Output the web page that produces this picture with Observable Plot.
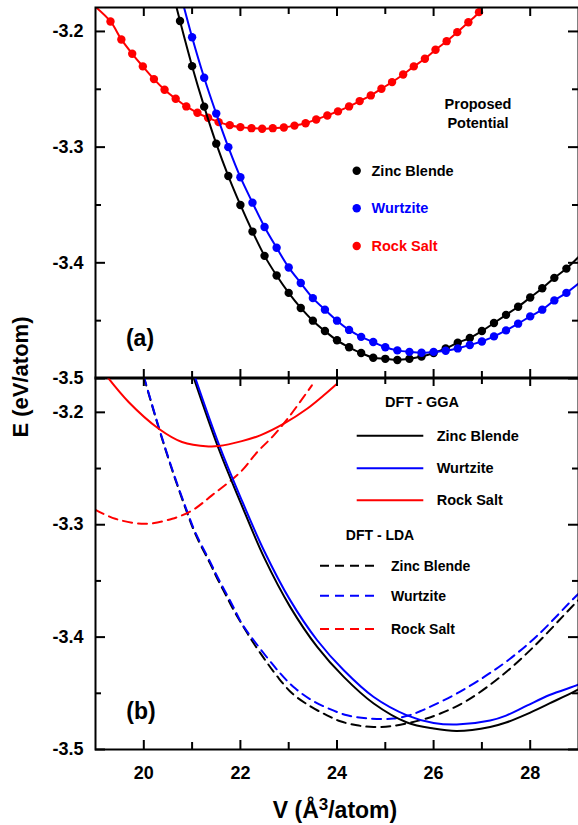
<!DOCTYPE html>
<html>
<head>
<meta charset="utf-8">
<script src="https://cdn.jsdelivr.net/npm/d3@7"></script>
<script src="https://cdn.jsdelivr.net/npm/@observablehq/plot@0.6"></script>
<style>
  body { margin: 0; background: white; }
  #chart { position: relative; width: 578px; height: 825px; overflow: hidden; background: white; }
  #chart svg { position: absolute; left: 0; }
</style>
</head>
<body>
<div id="chart"></div>
<script>
// ---------------- DATA ----------------
// Axis ticks
const xMajor = [20, 22, 24, 26, 28];
const xMinor = [21, 23, 25, 27];
const yMajor = [-3.5, -3.4, -3.3, -3.2];
const yMinor = [-3.45, -3.35, -3.25];

// Panel (a): Proposed potential (points + fitted line)
const zbV_a = [20.75, 21.0, 21.25, 21.5, 21.75, 22.0, 22.25, 22.5, 22.75, 23.0, 23.25, 23.5, 23.75, 24.0, 24.25, 24.5, 24.75, 25.0, 25.25, 25.5, 25.75, 26.0, 26.25, 26.5, 26.75, 27.0, 27.25, 27.5, 27.75, 28.0, 28.25, 28.5, 28.75];
const zbE_a = [-3.191, -3.230, -3.265, -3.297, -3.325, -3.350, -3.373, -3.394, -3.411, -3.426, -3.439, -3.450, -3.459, -3.467, -3.473, -3.478, -3.482, -3.483, -3.484, -3.483, -3.481, -3.478, -3.474, -3.469, -3.465, -3.459, -3.452, -3.445, -3.438, -3.430, -3.422, -3.413, -3.405];
const zbLineEnds_a = [[20.6, -3.166], [29.0, -3.395]];

const wzV_a = [21.0, 21.25, 21.5, 21.75, 22.0, 22.25, 22.5, 22.75, 23.0, 23.25, 23.5, 23.75, 24.0, 24.25, 24.5, 24.75, 25.0, 25.25, 25.5, 25.75, 26.0, 26.25, 26.5, 26.75, 27.0, 27.25, 27.5, 27.75, 28.0, 28.25, 28.5, 28.75];
const wzE_a = [-3.205, -3.240, -3.271, -3.300, -3.326, -3.348, -3.369, -3.387, -3.404, -3.4175, -3.4305, -3.4405, -3.450, -3.458, -3.464, -3.4685, -3.473, -3.4757, -3.477, -3.4777, -3.477, -3.476, -3.474, -3.471, -3.468, -3.4636, -3.4584, -3.4526, -3.4463, -3.4405, -3.4325, -3.426];
const wzLineEnds_a = [[20.75, -3.166], [29.0, -3.418]];

const rsV_a = [19.31, 19.535, 19.76, 19.98, 20.21, 20.43, 20.66, 20.88, 21.11, 21.33, 21.55, 21.78, 22.0, 22.23, 22.45, 22.67, 22.9, 23.12, 23.35, 23.57, 23.8, 24.02, 24.25, 24.47, 24.7, 24.92, 25.14, 25.37, 25.59, 25.82, 26.04, 26.27, 26.49, 26.72, 26.94];
const rsE_a = [-3.1914, -3.2069, -3.2193, -3.2302, -3.2412, -3.2504, -3.2582, -3.2648, -3.2703, -3.2746, -3.2784, -3.2810, -3.2827, -3.2836, -3.2841, -3.2836, -3.2830, -3.2814, -3.2793, -3.2761, -3.2726, -3.2691, -3.2648, -3.2602, -3.2553, -3.2495, -3.2438, -3.2372, -3.2302, -3.2236, -3.2158, -3.2084, -3.2006, -3.1920, -3.1833];
const rsLineEnds_a = [[18.95, -3.177], [27.1, -3.170]];

// Panel (b): DFT curves
const ggaZbV = [21.0, 21.55, 22.0, 22.5, 23.03, 23.59, 24.14, 24.76, 25.45, 26.0, 26.48, 27.17, 27.5, 27.93, 28.4, 28.9, 29.0];
const ggaZbE = [-3.165, -3.2324, -3.2799, -3.330, -3.3731, -3.4087, -3.4354, -3.4591, -3.4760, -3.4814, -3.4835, -3.4800, -3.4760, -3.4685, -3.4590, -3.4488, -3.4465];

const ggaWzV = [21.03, 21.55, 22.0, 22.5, 23.03, 23.59, 24.14, 24.76, 25.45, 26.0, 26.48, 27.17, 27.5, 27.93, 28.4, 28.97, 29.0];
const ggaWzE = [-3.165, -3.228, -3.2754, -3.324, -3.3671, -3.4028, -3.4295, -3.4533, -3.4696, -3.4764, -3.4778, -3.4742, -3.4698, -3.4610, -3.4515, -3.4428, -3.4420];

const ggaRsV = [19.2, 19.69, 20.31, 20.79, 21.34, 21.55, 22.03, 22.41, 22.9, 23.38, 23.72, 24.0];
const ggaRsE = [-3.166, -3.191, -3.2146, -3.2264, -3.2303, -3.2300, -3.2256, -3.2205, -3.2101, -3.1968, -3.1850, -3.1745];

const ldaZbV = [20.0, 20.31, 20.587, 20.862, 21.069, 21.379, 21.518, 21.69, 21.862, 22.068, 22.275, 22.517, 22.76, 23.07, 23.449, 23.794, 24.069, 24.415, 24.758, 25.172, 25.72, 26.14, 26.69, 27.38, 28.07, 28.83, 29.0];
const ldaZbE = [-3.1686, -3.214, -3.2514, -3.2852, -3.3084, -3.3351, -3.3476, -3.3618, -3.3761, -3.3912, -3.4055, -3.4206, -3.4348, -3.4500, -3.4616, -3.4696, -3.4749, -3.4785, -3.4800, -3.4789, -3.4740, -3.4680, -3.4565, -3.4354, -3.4087, -3.3745, -3.3670];

const ldaWzV = [20.0, 20.31, 20.587, 20.862, 21.069, 21.379, 21.518, 21.69, 21.862, 22.03, 22.275, 22.83, 23.14, 23.48, 23.83, 24.21, 24.69, 25.17, 25.5, 25.72, 26.0, 26.48, 27.1, 27.59, 28.14, 28.9, 29.0];
const ldaWzE = [-3.1680, -3.2132, -3.2505, -3.2840, -3.3070, -3.3335, -3.3458, -3.3598, -3.3738, -3.3879, -3.4028, -3.4325, -3.4458, -3.4562, -3.4636, -3.4696, -3.4725, -3.4725, -3.4695, -3.4660, -3.4605, -3.4502, -3.4339, -3.4190, -3.3990, -3.3656, -3.3615];

const ldaRsV = [19.0, 19.41, 20.03, 20.59, 21.0, 21.41, 22.0, 22.35, 22.69, 23.03, 23.48];
const ldaRsE = [-3.2867, -3.2947, -3.2992, -3.2947, -3.2873, -3.2739, -3.2532, -3.2353, -3.2205, -3.2027, -3.1760];

// Legend labels
const phases = ["Zinc Blende", "Wurtzite", "Rock Salt"];
const phaseColors = ["#000000", "#0000ff", "#ff0000"];

// ---------------- HELPERS ----------------
const FONT = '"Liberation Sans", Arial, Helvetica, sans-serif';
const pts = (V, E) => V.map((v, i) => ({V: v, E: E[i]}));
const withEnds = (V, E, ends) => [{V: ends[0][0], E: ends[0][1]}, ...pts(V, E), {V: ends[1][0], E: ends[1][1]}];

const W = 578, ML = 95, MR = 0;
const FW = W - ML - MR;
const xDomain = [19, 29];

// Inward ticks on all four sides (lengths in pixels converted to data units)
function frameTicks(yDom, fh) {
  const ypx = (yDom[1] - yDom[0]) / fh;
  const xpx = (xDomain[1] - xDomain[0]) / FW;
  const [yb, yt] = yDom, [xl, xr] = xDomain;
  const sw = 2;
  return [
    Plot.ruleX(xMajor, {x: d => d, y1: () => yt, y2: () => yt - 9 * ypx, stroke: "black", strokeWidth: sw}),
    Plot.ruleX(xMajor, {x: d => d, y1: () => yb, y2: () => yb + 9 * ypx, stroke: "black", strokeWidth: sw}),
    Plot.ruleX(xMinor, {x: d => d, y1: () => yt, y2: () => yt - 7 * ypx, stroke: "black", strokeWidth: sw}),
    Plot.ruleX(xMinor, {x: d => d, y1: () => yb, y2: () => yb + 7 * ypx, stroke: "black", strokeWidth: sw}),
    Plot.ruleY(yMajor, {y: d => d, x1: () => xl, x2: () => xl + 10 * xpx, stroke: "black", strokeWidth: sw}),
    Plot.ruleY(yMajor, {y: d => d, x1: () => xr, x2: () => xr - 10 * xpx, stroke: "black", strokeWidth: sw}),
    Plot.ruleY(yMinor, {y: d => d, x1: () => xl, x2: () => xl + 6 * xpx, stroke: "black", strokeWidth: sw}),
    Plot.ruleY(yMinor, {y: d => d, x1: () => xr, x2: () => xr - 6 * xpx, stroke: "black", strokeWidth: sw}),
    Plot.frame({stroke: "black", strokeWidth: 2})
  ];
}

const baseStyle = {fontFamily: FONT, fontSize: "18px", fontWeight: "bold", color: "black", overflow: "visible", background: "transparent"};

// ---------------- PANEL (a) ----------------
const topH = 380, topMT = 7, topMB = 2;
const yDomA = [-3.5, -3.1793];
const plotA = Plot.plot({
  width: W, height: topH, marginTop: topMT, marginBottom: topMB, marginLeft: ML, marginRight: MR,
  x: {domain: xDomain, axis: null},
  y: {domain: yDomA, axis: null},
  style: baseStyle,
  marks: [
    Plot.axisY(yMajor, {anchor: "left", tickSize: 0, tickPadding: 12, tickFormat: d => d.toFixed(1), label: null}),
    Plot.line(withEnds(rsV_a, rsE_a, rsLineEnds_a), {x: "V", y: "E", stroke: phaseColors[2], strokeWidth: 2, curve: "catmull-rom", clip: true}),
    Plot.dot(pts(rsV_a, rsE_a), {x: "V", y: "E", r: 4.2, fill: phaseColors[2], clip: true}),
    Plot.line(withEnds(zbV_a, zbE_a, zbLineEnds_a), {x: "V", y: "E", stroke: phaseColors[0], strokeWidth: 2, curve: "catmull-rom", clip: true}),
    Plot.dot(pts(zbV_a, zbE_a), {x: "V", y: "E", r: 4.2, fill: phaseColors[0], clip: true}),
    Plot.line(withEnds(wzV_a, wzE_a, wzLineEnds_a), {x: "V", y: "E", stroke: phaseColors[1], strokeWidth: 2, curve: "catmull-rom", clip: true}),
    Plot.dot(pts(wzV_a, wzE_a), {x: "V", y: "E", r: 4.2, fill: phaseColors[1], clip: true}),
    ...frameTicks(yDomA, topH - topMT - topMB)
  ]
});
plotA.style.top = "0px";

// ---------------- PANEL (b) ----------------
const botTop = 376, botH = 825 - botTop, botMT = 1, botMB = 76;
const yDomB = [-3.5, -3.169];
const dash = "9,6";
const plotB = Plot.plot({
  width: W, height: botH, marginTop: botMT, marginBottom: botMB, marginLeft: ML, marginRight: MR,
  x: {domain: xDomain, axis: null},
  y: {domain: yDomB, axis: null},
  style: baseStyle,
  marks: [
    Plot.axisY(yMajor, {anchor: "left", tickSize: 0, tickPadding: 12, tickFormat: d => d.toFixed(1), label: null}),
    Plot.axisX(xMajor, {anchor: "bottom", tickSize: 0, tickPadding: 17, tickFormat: d => String(d), label: null}),
    Plot.line(pts(ldaZbV, ldaZbE), {x: "V", y: "E", stroke: phaseColors[0], strokeWidth: 2, strokeDasharray: dash, curve: "catmull-rom", clip: true}),
    Plot.line(pts(ldaWzV, ldaWzE), {x: "V", y: "E", stroke: phaseColors[1], strokeWidth: 2, strokeDasharray: dash, curve: "catmull-rom", clip: true}),
    Plot.line(pts(ldaRsV, ldaRsE), {x: "V", y: "E", stroke: phaseColors[2], strokeWidth: 2, strokeDasharray: dash, curve: "catmull-rom", clip: true}),
    Plot.line(pts(ggaZbV, ggaZbE), {x: "V", y: "E", stroke: phaseColors[0], strokeWidth: 2, curve: "catmull-rom", clip: true}),
    Plot.line(pts(ggaWzV, ggaWzE), {x: "V", y: "E", stroke: phaseColors[1], strokeWidth: 2, curve: "catmull-rom", clip: true}),
    Plot.line(pts(ggaRsV, ggaRsE), {x: "V", y: "E", stroke: phaseColors[2], strokeWidth: 2, curve: "catmull-rom", clip: true}),
    ...frameTicks(yDomB, botH - botMT - botMB)
  ]
});
plotB.style.top = botTop + "px";

const chart = document.getElementById("chart");
chart.appendChild(plotA);
chart.appendChild(plotB);

// ---------------- OVERLAY: legends, panel tags, axis titles ----------------
const ov = d3.create("svg")
  .attr("width", W).attr("height", 825)
  .style("top", "0px")
  .style("font-family", FONT)
  .style("font-weight", "bold")
  .style("pointer-events", "none");

function txt(x, y, s, size, opts = {}) {
  return ov.append("text")
    .attr("x", x).attr("y", y)
    .attr("font-size", size)
    .attr("text-anchor", opts.anchor || "start")
    .attr("dominant-baseline", opts.baseline || "central")
    .attr("fill", opts.fill || "black")
    .text(s);
}

// Panel (a) legend
txt(478, 103.5, "Proposed", 14.5, {anchor: "middle"});
txt(478, 122.5, "Potential", 14.5, {anchor: "middle"});
const legAy = [170.7, 208.3, 246];
phases.forEach((p, i) => {
  ov.append("circle").attr("cx", 356.7).attr("cy", legAy[i]).attr("r", 4.2).attr("fill", phaseColors[i]);
  txt(371.5, legAy[i], p, 14.5, {fill: phaseColors[i]});
});

// Panel (b) legend
txt(422, 402, "DFT - GGA", 14.5, {anchor: "middle"});
const legGy = [435.7, 468.3, 500.3];
phases.forEach((p, i) => {
  ov.append("line").attr("x1", 356.7).attr("x2", 423.3).attr("y1", legGy[i]).attr("y2", legGy[i])
    .attr("stroke", phaseColors[i]).attr("stroke-width", 2);
  txt(436.7, legGy[i], p, 14.5);
});
txt(380, 535, "DFT - LDA", 14, {anchor: "middle"});
const legLy = [565.7, 595.7, 629];
phases.forEach((p, i) => {
  ov.append("line").attr("x1", 320).attr("x2", 376.7).attr("y1", legLy[i]).attr("y2", legLy[i])
    .attr("stroke", phaseColors[i]).attr("stroke-width", 2).attr("stroke-dasharray", dash);
  txt(391, legLy[i], p, 14);
});

// Panel tags
txt(140, 338, "(a)", 23, {anchor: "middle"});
txt(141, 711, "(b)", 23, {anchor: "middle"});

// Axis titles
ov.append("text")
  .attr("transform", "translate(20,377) rotate(-90)")
  .attr("text-anchor", "middle").attr("dominant-baseline", "central")
  .attr("font-size", 22).text("E (eV/atom)");

const xt = ov.append("text").attr("x", 335).attr("y", 818).attr("text-anchor", "middle").attr("font-size", 23);
xt.append("tspan").text("V (Å");
xt.append("tspan").attr("font-size", 17).attr("dy", -8).text("3");
xt.append("tspan").attr("dy", 8).text("/atom)");

chart.appendChild(ov.node());
</script>
</body>
</html>
